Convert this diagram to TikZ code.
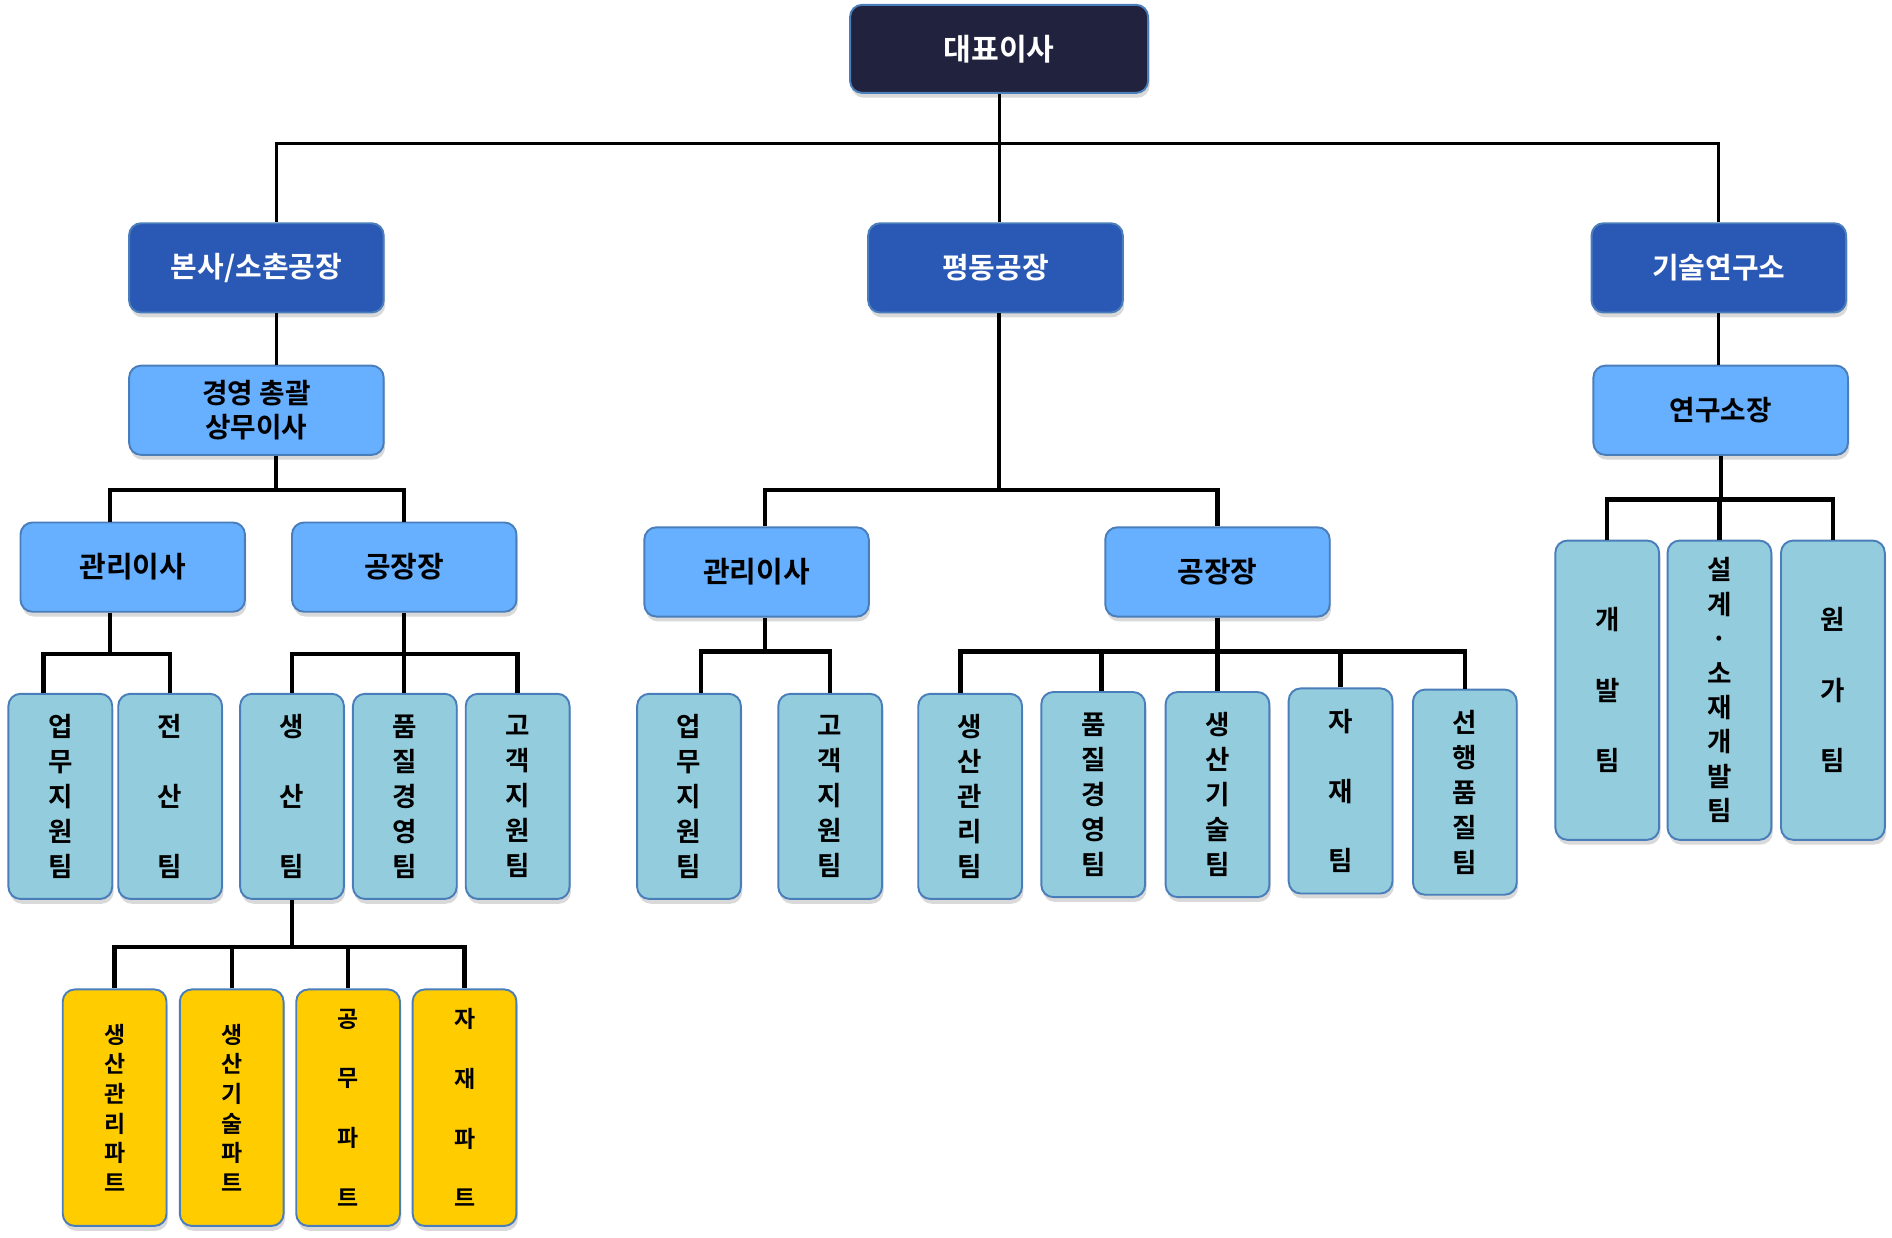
\documentclass[tikz,border=0pt]{standalone}
\usepackage{fontspec}
\setmainfont{Noto Sans CJK KR}[BoldFont={Noto Sans CJK KR Bold}]
\usetikzlibrary{shadows}

\definecolor{navy}{RGB}{33,35,62}
\definecolor{siteblue}{RGB}{42,88,181}
\definecolor{headblue}{RGB}{102,176,255}
\definecolor{teamblue}{RGB}{147,205,221}
\definecolor{partyellow}{RGB}{255,204,0}
\definecolor{boxline}{RGB}{74,126,187}

\tikzset{
  box/.style={draw=boxline, line width=0.8pt, rounded corners=5pt, inner sep=0pt, align=center,
    drop shadow={shadow xshift=0.6pt, shadow yshift=-2pt, opacity=0.3}},
  topbox/.style={box, fill=navy, text=white, minimum width=123.5pt, minimum height=36.5pt,
    font=\bfseries\fontsize{12.5}{15}\selectfont},
  sitebox/.style={box, fill=siteblue, text=white, minimum width=105.5pt, minimum height=37pt,
    font=\bfseries\fontsize{12}{14}\selectfont},
  headbox/.style={box, fill=headblue, minimum width=105.5pt, minimum height=37pt,
    font=\bfseries\fontsize{11.5}{14}\selectfont},
  mgrbox/.style={box, fill=headblue, minimum width=93pt, minimum height=37pt,
    font=\bfseries\fontsize{12}{14}\selectfont},
  teambox/.style={box, fill=teamblue, minimum width=43pt, minimum height=85pt,
    font=\bfseries\fontsize{11}{14.5}\selectfont},
  wideteam/.style={teambox, font=\bfseries\fontsize{11}{29}\selectfont},
  labteam/.style={teambox, minimum height=124pt, font=\bfseries\fontsize{11}{14.25}\selectfont},
  widelab/.style={labteam, font=\bfseries\fontsize{11}{29.25}\selectfont},
  partbox/.style={box, fill=partyellow, minimum width=43pt, minimum height=98pt,
    font=\bfseries\fontsize{9.5}{12.25}\selectfont},
  widepart/.style={partbox, font=\bfseries\fontsize{9.5}{24.75}\selectfont},
  trunk/.style={line width=1.3pt},
  bus/.style={line width=1.8pt}
}

\begin{document}
\begin{tikzpicture}[x=0.5pt,y=-0.5pt]
\useasboundingbox (0,0) rectangle (1568,1026);

\node[topbox] (ceo) at (828,40.5) {대표이사};

\node[sitebox] (hq) at (212.5,222) {본사/소촌공장};
\node[sitebox] (pd) at (825,222) {평동공장};
\node[sitebox] (lab) at (1424.5,222) {기술연구소};

\node[headbox] (gm) at (212.5,340) {경영 총괄\\상무이사};
\node[headbox] (rl) at (1426,340) {연구소장};

\node[mgrbox] (adm1) at (110,470) {관리이사};
\node[mgrbox] (fac1) at (335,470) {공장장};
\node[mgrbox] (adm2) at (627,474) {관리이사};
\node[mgrbox] (fac2) at (1009,474) {공장장};

\node[teambox] (t11) at (50,660) {업\\무\\지\\원\\팀};
\node[wideteam] (t12) at (141,660) {전\\산\\팀};
\node[wideteam] (t13) at (242,660) {생\\산\\팀};
\node[teambox] (t14) at (335.5,660) {품\\질\\경\\영\\팀};
\node[teambox] (t15) at (429,660) {고\\객\\지\\원\\팀};

\node[teambox] (t21) at (571,660) {업\\무\\지\\원\\팀};
\node[teambox] (t22) at (688,660) {고\\객\\지\\원\\팀};
\node[teambox] (t23) at (804,660) {생\\산\\관\\리\\팀};
\node[teambox] (t24) at (906,658.5) {품\\질\\경\\영\\팀};
\node[teambox] (t25) at (1009,658.5) {생\\산\\기\\술\\팀};
\node[wideteam] (t26) at (1111,655.5) {자\\재\\팀};
\node[teambox] (t27) at (1214,656.5) {선\\행\\품\\질\\팀};

\node[widelab] (r1) at (1332,572) {개\\발\\팀};
\node[labteam] (r2) at (1425,572) {설\\계\\·\\소\\재\\개\\발\\팀};
\node[widelab] (r3) at (1519,572) {원\\가\\팀};

\node[partbox] (p1) at (95,918) {생\\산\\관\\리\\파\\트};
\node[partbox] (p2) at (192,918) {생\\산\\기\\술\\파\\트};
\node[widepart] (p3) at (288.5,918) {공\\무\\파\\트};
\node[widepart] (p4) at (385,918) {자\\재\\파\\트};

\coordinate (j0) at (828,119);
\coordinate (j1) at (229,406);
\coordinate (j11) at (91,542);
\coordinate (j12) at (335,542);
\coordinate (j13) at (242,785);
\coordinate (j2) at (828,406);
\coordinate (j21) at (634,540);
\coordinate (j22) at (1009,540);
\coordinate (j3) at (1425,414);

\draw[trunk] ([xshift=8.25pt]hq.north) |- (j0) -| (lab.north);
\draw[trunk] (ceo.south) -- (ceo.south |- pd.north);
\draw[trunk] ([xshift=8.25pt]hq.south) -- ([xshift=8.25pt]gm.north);
\draw[trunk] (lab.south) -- (lab.south |- rl.north);

\draw[bus] ([xshift=8.25pt]gm.south) -- (j1);
\draw[bus] ([xshift=-9.5pt]adm1.north) |- (j1) -| (fac1.north);
\draw[bus] ([xshift=-9.5pt]adm1.south) -- (j11);
\draw[bus] ([xshift=-7pt]t11.north) |- (j11) -| (t12.north);
\draw[bus] (fac1.south) -- (fac1.south |- t14.north);
\draw[bus] (t13.north) |- (j12) -| (t15.north);
\draw[bus] (t13.south) -- (j13);
\draw[bus] (p1.north) |- (j13) -| (p4.north);
\draw[bus] (p2.north) -- (p2.north |- j13);
\draw[bus] (p3.north) -- (p3.north |- j13);

\draw[bus] (j2 |- pd.south) -- (j2);
\draw[bus] ([xshift=3.5pt]adm2.north) |- (j2) -| (fac2.north);
\draw[bus] ([xshift=3.5pt]adm2.south) -- (j21);
\draw[bus] ([xshift=5pt]t21.north) |- (j21) -| (t22.north);
\draw[bus] (fac2.south) -- (fac2.south |- t25.north);
\draw[bus] ([xshift=-4pt]t23.north) |- (j22) -| (t27.north);
\draw[bus] ([xshift=3.5pt]t24.north) -- ([xshift=3.5pt]t24.north |- j22);
\draw[bus] (t26.north) -- (t26.north |- j22);

\draw[bus] (rl.south) -- (rl.south |- j3);
\draw[bus] (r1.north) |- (j3) -| (r3.north);
\draw[bus] (r2.north) -- (r2.north |- j3);
\end{tikzpicture}
\end{document}
